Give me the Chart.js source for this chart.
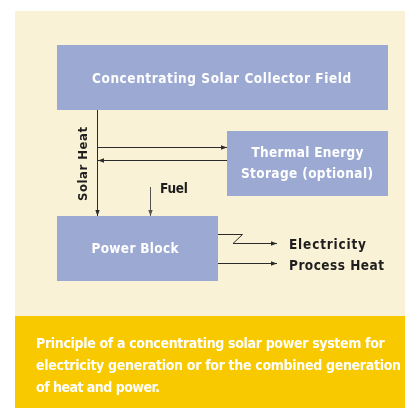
<!DOCTYPE html>
<html>
<head>
<meta charset="utf-8">
<script src="https://cdn.jsdelivr.net/npm/chart.js@4/dist/chart.umd.min.js"></script>
<style>
  html, body { margin: 0; padding: 0; background: #fff; }
  canvas { display: block; }
</style>
</head>
<body>
<canvas id="csp-chart" width="405" height="408"></canvas>
<script>
// diagram units: x 0..405, y 0..408 (y grows downwards)
const boxLabels = [
    ['Concentrating Solar Collector Field'],
    ['Thermal Energy', 'Storage (optional)'],
    ['Power Block']
];
const boxLeft   = [57, 227, 57];
const boxRight  = [388, 388, 218];
const boxTop    = [45, 131, 216];
const boxBottom = [110, 196, 281];

// flows between the blocks (each a polyline, arrow at the end)
const flowNames = ['Solar Heat', 'to storage', 'from storage', 'Fuel', 'Electricity', 'Process Heat'];
const flowX = [
    [97.5, 97.5],
    [97.5, 227],
    [227, 98],
    [150.5, 150.5],
    [218, 242.5, 233, 277],
    [218, 277]
];
const flowY = [
    [110, 216],
    [147.5, 147.5],
    [160.5, 160.5],
    [187, 216],
    [234.5, 234.5, 243.5, 243.5],
    [263.5, 263.5]
];

const flowLabels = ['Fuel', 'Electricity', 'Process Heat'];
const flowLabelX = [160, 289, 289];
const flowLabelY = [188, 244, 265];

const captionLines = [
    'Principle of a concentrating solar power system for',
    'electricity generation or for the combined generation',
    'of heat and power.'
];

const ctx = document.getElementById('csp-chart').getContext('2d');

var datasets = [];
for (let i = 0; i < flowNames.length; i++) {
    let pts = [];
    for (let j = 0; j < flowX[i].length; j++)
        pts.push({ x: flowX[i][j], y: flowY[i][j] });
    datasets.push({
        label: flowNames[i],
        data: pts,
        showLine: true,
        borderColor: i == 3 ? '#555' : '#2b2b2b',
        borderWidth: 1,
        pointRadius: 0,
        tension: 0,
        fill: false,
    });
}

// draws text left-aligned at x, spreading letters so the run is `width` wide
function fitText(c, text, x, y, size, width) {
    c.font = 'bold ' + size + 'px "DejaVu Sans Condensed", "DejaVu Sans", sans-serif';
    c.letterSpacing = '0px';
    const w = c.measureText(text).width;
    const sp = (width - w) / Math.max(1, text.length - 1);
    c.letterSpacing = sp.toFixed(2) + 'px';
    c.textAlign = 'left';
    c.fillText(text, x, y);
}

const diagramPlugin = {
    id: 'diagram',
    beforeDatasetsDraw(chart) {
        const c = chart.ctx;
        const sx = chart.scales.x, sy = chart.scales.y;
        const px = v => sx.getPixelForValue(v);
        const py = v => sy.getPixelForValue(v);
        c.save();
        // background panels
        c.fillStyle = '#faf2d6';
        c.fillRect(px(15), py(11), px(405) - px(15), py(316) - py(11));
        c.fillStyle = '#f9c900';
        c.fillRect(px(15), py(316), px(405) - px(15), py(408) - py(316));
        // blocks
        c.fillStyle = '#9caad3';
        for (let i = 0; i < boxLabels.length; i++) {
            c.fillRect(px(boxLeft[i]), py(boxTop[i]),
                px(boxRight[i]) - px(boxLeft[i]), py(boxBottom[i]) - py(boxTop[i]));
        }
        c.restore();
    },
    afterDatasetsDraw(chart) {
        const c = chart.ctx;
        const sx = chart.scales.x, sy = chart.scales.y;
        const px = v => sx.getPixelForValue(v);
        const py = v => sy.getPixelForValue(v);
        c.save();
        // arrow heads
        chart.data.datasets.forEach((ds) => {
            const n = ds.data.length;
            const x1 = px(ds.data[n - 1].x), y1 = py(ds.data[n - 1].y);
            const x0 = px(ds.data[n - 2].x), y0 = py(ds.data[n - 2].y);
            const a = Math.atan2(y1 - y0, x1 - x0);
            c.fillStyle = ds.borderColor;
            c.beginPath();
            c.moveTo(x1, y1);
            c.lineTo(x1 - 6 * Math.cos(a) + 2.2 * Math.sin(a), y1 - 6 * Math.sin(a) - 2.2 * Math.cos(a));
            c.lineTo(x1 - 6 * Math.cos(a) - 2.2 * Math.sin(a), y1 - 6 * Math.sin(a) + 2.2 * Math.cos(a));
            c.closePath();
            c.fill();
        });

        c.textBaseline = 'alphabetic';

        // block labels (white)
        c.fillStyle = '#ffffff';
        fitText(c, boxLabels[0][0], px(92), py(82.5), 13.5, 259);
        fitText(c, boxLabels[1][0], px(251.5), py(157), 13.5, 112);
        fitText(c, boxLabels[1][1], px(241), py(178), 13.5, 132);
        fitText(c, boxLabels[2][0], px(91.5), py(253), 13.5, 87);

        // flow labels
        c.fillStyle = '#1e1e1e';
        const flowW = [28, 77, 95];
        for (let i = 0; i < flowLabels.length; i++)
            fitText(c, flowLabels[i], px(flowLabelX[i]), py(flowLabelY[i] + 5), 13.5, flowW[i]);

        // rotated Solar Heat
        c.save();
        c.translate(px(87), py(201));
        c.rotate(-Math.PI / 2);
        fitText(c, 'Solar Heat', 0, 0, 13, 74);
        c.restore();

        // caption
        c.fillStyle = '#ffffff';
        const capW = [349, 365, 124];
        for (let i = 0; i < captionLines.length; i++)
            fitText(c, captionLines[i], px(36), py(347.5 + i * 22.2), 14, capW[i]);
        c.restore();
    }
};

const cspChart = new Chart(ctx, {
    type: 'scatter',
    data: { datasets: datasets },
    options: {
        responsive: false,
        animation: false,
        layout: { padding: 0 },
        scales: {
            x: { type: 'linear', min: 0, max: 405, display: false },
            y: { type: 'linear', min: 0, max: 408, reverse: true, display: false }
        },
        plugins: {
            legend: { display: false },
            tooltip: { enabled: false }
        }
    },
    plugins: [diagramPlugin]
});
</script>
</body>
</html>
